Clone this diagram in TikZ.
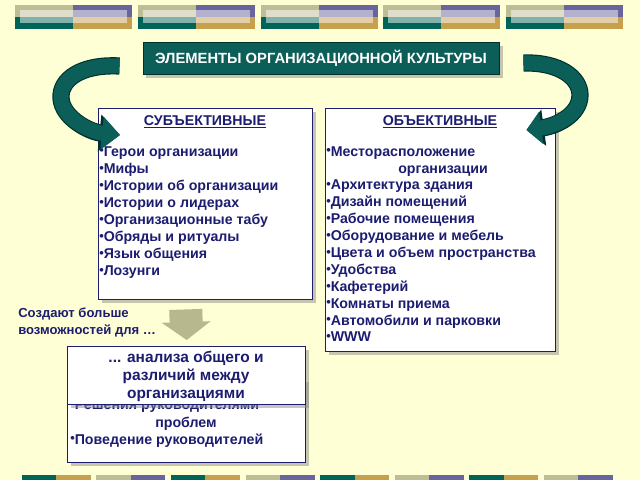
\documentclass[tikz,border=0pt]{standalone}
\usepackage{fontspec}
\setmainfont{Liberation Sans}
\usepackage{graphicx}
\usepackage{tikz}
\usetikzlibrary{arrows.meta,calc,shadows}

\definecolor{paper}{RGB}{255,255,214}
\definecolor{deepteal}{RGB}{12,94,88}
\definecolor{tealedge}{RGB}{0,48,46}
\definecolor{inkblue}{RGB}{28,28,112}
\definecolor{sage}{RGB}{190,190,150}
\definecolor{plum}{RGB}{104,100,158}
\definecolor{barteal}{RGB}{0,100,88}
\definecolor{bargold}{RGB}{198,160,76}
\definecolor{grayarrow}{RGB}{184,184,142}

\newcommand{\dotb}{\raisebox{0.15ex}{\scalebox{0.9}{•}}}

\tikzset{
  panel/.style={draw=inkblue, line width=1pt, fill=white, anchor=north west, inner sep=0pt,
    drop shadow={shadow xshift=2.5pt, shadow yshift=-2.5pt, fill=black!45, opacity=0.5}},
  titlebox/.style={draw=tealedge, line width=0.6pt, fill=deepteal, text=white, inner sep=0pt,
    minimum width=8.9cm, minimum height=0.8cm,
    font=\bfseries\fontsize{10.5}{12}\selectfont,
    drop shadow={shadow xshift=2.5pt, shadow yshift=-2.5pt, fill=black!45, opacity=0.5}},
  item/.style={anchor=base west, inner sep=0pt, text=inkblue, font=\bfseries\fontsize{10.1}{12}\selectfont},
  heading/.style={anchor=base, inner sep=0pt, text=inkblue, font=\bfseries\fontsize{10.1}{12}\selectfont},
  ribbon/.style={draw=deepteal, line width=0.375cm, -{Triangle[length=#1, width=22.7pt]},
    preaction={draw=tealedge, line width=0.375cm+1.6pt, -{Triangle[length=#1+1.8pt, width=25.4pt]}}},
  fatgray/.style={draw=grayarrow, line width=0.825cm, -{Triangle[length=0.45cm, width=1.2cm]}}
}

\begin{document}
\begin{tikzpicture}[x=0.025cm, y=-0.025cm]
\useasboundingbox (0,0) rectangle (640,480);
\fill[paper] (0,0) rectangle (640,480);

\foreach \i in {0,...,4} {
  \pgfmathsetmacro{\xa}{15+122.75*\i}
  \fill[sage] (\xa,5) rectangle ++(58,12);
  \fill[plum] (\xa+58,5) rectangle ++(59,12);
  \fill[barteal] (\xa,17) rectangle ++(58,12);
  \fill[bargold] (\xa+58,17) rectangle ++(59,12);
  \fill[white, opacity=0.5] (\xa+5,10) rectangle ++(107,13);
}

\foreach \i/\ca/\cb in {0/barteal/bargold, 1/sage/plum, 2/barteal/bargold, 3/sage/plum,
                        4/barteal/bargold, 5/sage/plum, 6/barteal/bargold, 7/sage/plum} {
  \pgfmathsetmacro{\xa}{21.7+74.6*\i}
  \fill[\ca] (\xa,475) rectangle ++(34.5,6);
  \fill[\cb] (\xa+34.5,475) rectangle ++(34.5,6);
}

\node[titlebox] (title) at (321,58) {ЭЛЕМЕНТЫ ОРГАНИЗАЦИОННОЙ КУЛЬТУРЫ};

\node[panel, minimum width=5.35cm, minimum height=4.775cm] (subj) at (98,108) {};
\node[panel, minimum width=5.75cm, minimum height=6.075cm] (obj) at (325,108) {};

\node[heading] (subjhead) at (205,125) {\underline{СУБЪЕКТИВНЫЕ}};
\node[heading] (objhead) at (440,125) {\underline{ОБЪЕКТИВНЫЕ}};

\foreach \t [count=\i] in {Герои организации, Мифы, Истории об организации, Истории о лидерах,
    Организационные табу, Обряды и ритуалы, Язык общения, Лозунги}
  \node[item] (s\i) at (99,{139+17.1*\i}) {\dotb\t};

\node[item] (o0) at (326,156) {\dotb Месторасположение};
\node[item] (o1) at (398,173) {организации};
\foreach \t [count=\i from 2] in {Архитектура здания, Дизайн помещений, Рабочие помещения,
    Оборудование и мебель, Цвета и объем пространства, Удобства, Кафетерий,
    Комнаты приема, Автомобили и парковки, WWW}
  \node[item] (o\i) at (326,{156+16.9*\i}) {\dotb\t};

\coordinate (ltail) at ($(title.west)+(-23,8)$);
\coordinate (lhead) at ($(subj.north west)+(22,27)$);
\coordinate (rtail) at ($(title.east)+(24,5)$);
\coordinate (rhead) at ($(obj.north east)+(-30,22)$);

\draw[ribbon=12.8pt] (ltail) .. controls (80,64) and (60,80) .. (61,98)
  .. controls (62,118) and (90,132) .. (lhead);
\draw[ribbon=10.6pt] (rtail) .. controls (560,62) and (580,78) .. (580,95)
  .. controls (580,115) and (556,126) .. (rhead);

\node[item, font=\bfseries\fontsize{9.3}{12}\selectfont] (more1) at (18,317) {Создают больше};
\node[item, font=\bfseries\fontsize{9.3}{12}\selectfont] (more2) at (18,334) {возможностей для \ldots};

\node[panel, minimum width=5.95cm, minimum height=2.1cm] (back) at (67,378) {};
\node[item] (b1) at (70,409) {\dotb Решения руководителями};
\node[heading] (b2) at (186,427) {проблем};
\node[item] (b3) at (70,444) {\dotb Поведение руководителей};

\node[panel, minimum width=5.95cm, minimum height=1.45cm] (front) at (67,346) {};
\node[text=inkblue, align=center, inner sep=0pt,
  font=\bfseries\fontsize{11}{12.8}\selectfont] (frontext) at (186,376)
  {... анализа общего и\\различий между\\организациями};

\coordinate (gtop) at ($(subj.south)+(-20,9)$);
\coordinate (gtip) at ($(front.north)+(0,-6)$);
\draw[fatgray] (gtop) -- (gtip);
\end{tikzpicture}
\end{document}
